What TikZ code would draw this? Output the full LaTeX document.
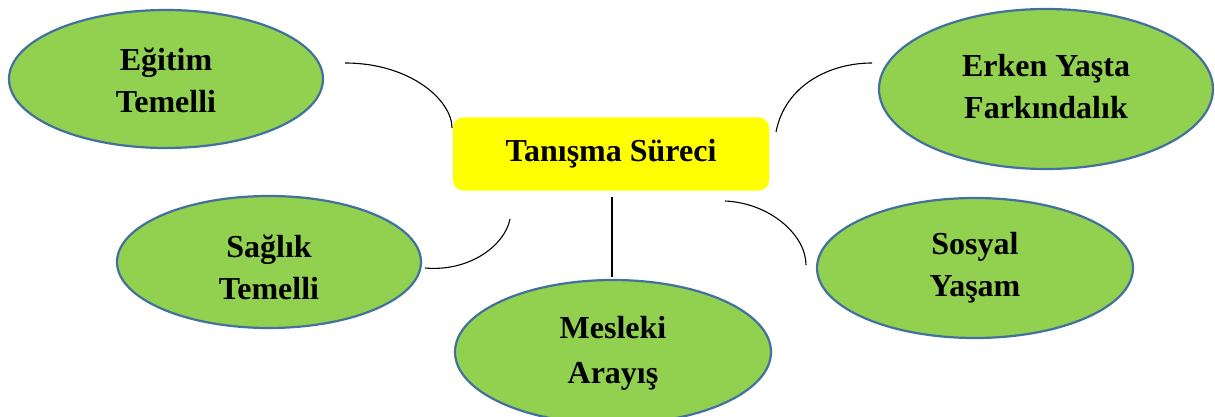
\documentclass[tikz,border=0pt]{standalone}
\usepackage{fontspec}
\setmainfont{Liberation Serif}
\usetikzlibrary{shapes.geometric}
\definecolor{leaf}{HTML}{92D050}
\definecolor{rim}{HTML}{41719C}
\definecolor{hub}{HTML}{FFFF00}
\tikzset{
  bubble/.style={ellipse, draw=rim, line width=2.2pt, fill=leaf, inner sep=0pt},
  words/.style={inner sep=0pt, align=center, font=\fontsize{32}{42}\selectfont\bfseries},
  hubbox/.style={rectangle, rounded corners=10pt, fill=hub, inner sep=0pt,
    minimum width=316pt, minimum height=73pt, font=\fontsize{32}{42}\selectfont\bfseries},
  link/.style={draw=black, line width=1.1pt}
}
\begin{document}
\begin{tikzpicture}[x=1pt,y=-1pt]
\useasboundingbox (0,0) rectangle (1215,417);
\node[hubbox] (hub) at (611,154) {Tanışma Süreci};
\node[bubble, minimum width=314pt, minimum height=138pt] (egitim) at (166,79) {};
\node[bubble, minimum width=334pt, minimum height=160pt] (erken) at (1046,89) {};
\node[bubble, minimum width=304pt, minimum height=132pt] (saglik) at (269,262) {};
\node[bubble, minimum width=316pt, minimum height=140pt] (sosyal) at (975,268) {};
\node[bubble, minimum width=316pt, minimum height=144pt] (meslek) at (613,352) {};
\node[words] (egitimT) at ([yshift=-1pt]egitim.center) {Eğitim\\Temelli};
\node[words] (erkenT) at ([yshift=2pt]erken.center) {Erken Yaşta\\Farkındalık};
\node[words] (saglikT) at ([yshift=-5pt]saglik.center) {Sağlık\\Temelli};
\node[words] (sosyalT) at ([yshift=0pt]sosyal.center) {Sosyal\\Yaşam};
\node[words, font=\fontsize{32}{45}\selectfont\bfseries] (meslekT) at ([yshift=-1pt]meslek.center) {Mesleki\\Arayış};
\coordinate (e1) at (345,63); \coordinate (e2) at (452,128);
\coordinate (k1) at (776,132); \coordinate (k2) at (872,63);
\coordinate (s1) at (425,268); \coordinate (s2) at (510,219);
\coordinate (y1) at (725,201); \coordinate (y2) at (806,265);
\coordinate (m1) at (612,197); \coordinate (m2) at (612,277);
\draw[link] (e1) .. controls (410,63) and (452,100) .. (e2);
\draw[link] (k1) .. controls (785,85) and (830,63) .. (k2);
\draw[link] (s1) .. controls (470,272) and (505,245) .. (s2);
\draw[link] (y1) .. controls (770,203) and (806,235) .. (y2);
\draw[link] (m1) -- (m2);
\end{tikzpicture}
\end{document}
